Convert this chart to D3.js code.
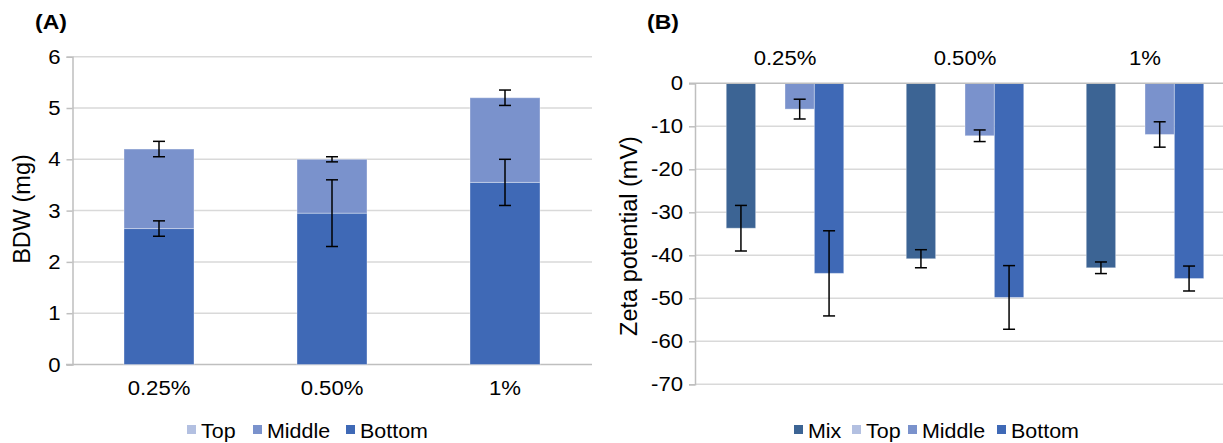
<!DOCTYPE html>
<html><head><meta charset="utf-8">
<script src="https://cdn.jsdelivr.net/npm/d3@7"></script>
<style>body{margin:0;background:#fff;} svg{display:block;font-family:"Liberation Sans",Arial,sans-serif;}</style>
</head><body><svg id="c" width="1223" height="443"></svg>
<script>
// ---- Data ----
const categories = ["0.25%", "0.50%", "1%"];
// Panel A (BDW, mg) stacked
const bdwBottom = [2.65, 2.95, 3.55];
const bdwBottomErr = [0.15, 0.65, 0.45];
const bdwMiddle = [1.55, 1.05, 1.65];
const bdwTotalErr = [0.15, 0.05, 0.15];
const bdwTop = [0, 0, 0];
const bdwTicks = [0, 1, 2, 3, 4, 5, 6];
const legendA = ["Top", "Middle", "Bottom"];
// Panel B (Zeta potential, mV)
const seriesB = ["Mix", "Top", "Middle", "Bottom"];
const zetaMix = [-33.7, -40.8, -42.9];
const zetaMixErr = [5.3, 2.1, 1.35];
const zetaTop = [null, null, null];
const zetaTopErr = [null, null, null];
const zetaMiddle = [-6.0, -12.2, -11.9];
const zetaMiddleErr = [2.3, 1.35, 2.95];
const zetaBottom = [-44.2, -49.8, -45.4];
const zetaBottomErr = [9.9, 7.4, 2.9];
const zetaTicks = [0, -10, -20, -30, -40, -50, -60, -70];

const colors = {Mix: "#3C6494", Top: "#B3C0E1", Middle: "#7A92CC", Bottom: "#3F69B6"};

// layout
const legendAX = [187, 253, 346];
const legendBX = [794, 852, 908, 997];
const SX = 1.08; // horizontal stretch of text in the reference

const svg = d3.select("#c");
const gridColor = "#D9D9D9", axisColor = "#BFBFBF";

function stext(g, x, y, str, size, anchor, sx, bold) {
  const t = g.append("text").attr("transform", `translate(${x},${y}) scale(${sx},1)`)
    .attr("text-anchor", anchor || "start").attr("font-size", size).text(str);
  if (bold) t.attr("font-weight", "bold");
  return t;
}
function styleAxis(ax) {
  ax.select(".domain").attr("stroke", axisColor).attr("stroke-width", 1.5);
  ax.selectAll(".tick line").attr("stroke", axisColor).attr("stroke-width", 1.5);
  ax.selectAll(".tick text").attr("font-size", 20.5).attr("fill", "#000")
    .attr("font-family", "Liberation Sans, Arial, sans-serif")
    .attr("transform", `scale(${SX},1)`).attr("x", -12 / SX);
}
function errBar(g, x, yv, e, yS, cap) {
  g.append("line").attr("x1", x).attr("x2", x).attr("y1", yS(yv - e)).attr("y2", yS(yv + e)).attr("stroke", "#000").attr("stroke-width", 1.5);
  [yv - e, yv + e].forEach(v => g.append("line").attr("x1", x - cap / 2).attr("x2", x + cap / 2).attr("y1", yS(v)).attr("y2", yS(v)).attr("stroke", "#000").attr("stroke-width", 1.5));
}
function legend(g, items, xs, y) {
  items.forEach((name, i) => {
    g.append("rect").attr("x", xs[i]).attr("y", y - 13).attr("width", 9).attr("height", 9).attr("fill", colors[name]);
    stext(g, xs[i] + 14, y, name, 19.5, "start", 1.1);
  });
}

// ---------- Panel A ----------
const xA = d3.scaleBand().domain(categories).range([72.5, 591.5]);
const yA = d3.scaleLinear().domain([0, 6]).range([364.5, 56.7]);
const gA = svg.append("g");
gA.selectAll("line.grid").data(bdwTicks.filter(d => d !== 0)).join("line")
  .attr("x1", 72.5).attr("x2", 592).attr("y1", d => yA(d)).attr("y2", d => yA(d))
  .attr("stroke", gridColor).attr("stroke-width", 1.5);
const axA = gA.append("g").attr("transform", "translate(72.5,0)")
  .call(d3.axisLeft(yA).tickValues(bdwTicks).tickSize(6).tickPadding(6).tickFormat(d3.format("d")));
styleAxis(axA);
gA.append("line").attr("x1", 66).attr("x2", 592).attr("y1", yA(0)).attr("y2", yA(0)).attr("stroke", axisColor).attr("stroke-width", 1.5);
const bwA = 70;
const stackA = categories.map((c, i) => ({c, b: bdwBottom[i], m: bdwMiddle[i], t: bdwTop[i]}));
gA.selectAll("rect.bot").data(stackA).join("rect")
  .attr("x", d => xA(d.c) + xA.bandwidth() / 2 - bwA / 2).attr("width", bwA)
  .attr("y", d => yA(d.b)).attr("height", d => yA(0) - yA(d.b))
  .attr("fill", colors.Bottom).attr("stroke", "#fff").attr("stroke-opacity", 0.35).attr("stroke-width", 1);
gA.selectAll("rect.mid").data(stackA).join("rect")
  .attr("x", d => xA(d.c) + xA.bandwidth() / 2 - bwA / 2).attr("width", bwA)
  .attr("y", d => yA(d.b + d.m)).attr("height", d => yA(d.b) - yA(d.b + d.m))
  .attr("fill", colors.Middle).attr("stroke", "#fff").attr("stroke-opacity", 0.35).attr("stroke-width", 1);
stackA.forEach((d, i) => {
  const cx = xA(d.c) + xA.bandwidth() / 2;
  errBar(gA, cx, d.b, bdwBottomErr[i], yA, 12);
  errBar(gA, cx, d.b + d.m, bdwTotalErr[i], yA, 12);
});
categories.forEach(c => stext(gA, xA(c) + xA.bandwidth() / 2, 395, c, 20.5, "middle", SX));
gA.append("text").attr("transform", "translate(30,209) rotate(-90)").attr("text-anchor", "middle")
  .attr("font-size", 23.5).text("BDW (mg)");
stext(gA, 35, 29, "(A)", 20, "start", 1.15, true);
legend(gA, legendA, legendAX, 438);

// ---------- Panel B ----------
const xB = d3.scaleBand().domain(categories).range([695, 1235]);
const yB = d3.scaleLinear().domain([-70, 0]).range([384.3, 83.3]);
const gB = svg.append("g");
gB.selectAll("line.grid").data(zetaTicks.filter(d => d !== 0)).join("line")
  .attr("x1", 695).attr("x2", 1235).attr("y1", d => yB(d)).attr("y2", d => yB(d))
  .attr("stroke", gridColor).attr("stroke-width", 1.5);
const axB = gB.append("g").attr("transform", "translate(695,0)")
  .call(d3.axisLeft(yB).tickValues(zetaTicks).tickSize(6).tickPadding(6).tickFormat(d => d < 0 ? "-" + Math.abs(d) : String(d)));
styleAxis(axB);
const groupW = 117.5;
const xInner = d3.scaleBand().domain(seriesB).range([0, groupW]);
const dataB = {Mix: [zetaMix, zetaMixErr], Top: [zetaTop, zetaTopErr], Middle: [zetaMiddle, zetaMiddleErr], Bottom: [zetaBottom, zetaBottomErr]};
seriesB.forEach(s => {
  const [vals] = dataB[s];
  categories.forEach((c, i) => {
    if (vals[i] == null) return;
    const x = xB(c) + xB.bandwidth() / 2 - groupW / 2 + xInner(s);
    gB.append("rect").attr("x", x).attr("width", xInner.bandwidth())
      .attr("y", yB(0)).attr("height", yB(vals[i]) - yB(0))
      .attr("fill", colors[s]).attr("stroke", "#fff").attr("stroke-opacity", 0.35).attr("stroke-width", 1);
  });
});
seriesB.forEach(s => {
  const [vals, errs] = dataB[s];
  categories.forEach((c, i) => {
    if (vals[i] == null) return;
    const x = xB(c) + xB.bandwidth() / 2 - groupW / 2 + xInner(s) + xInner.bandwidth() / 2;
    errBar(gB, x, vals[i], errs[i], yB, 12);
  });
});
gB.append("line").attr("x1", 689).attr("x2", 1235).attr("y1", yB(0)).attr("y2", yB(0)).attr("stroke", axisColor).attr("stroke-width", 1.5);
categories.forEach(c => stext(gB, xB(c) + xB.bandwidth() / 2, 65, c, 20.5, "middle", SX));
gB.append("text").attr("transform", "translate(637,236) rotate(-90)").attr("text-anchor", "middle")
  .attr("font-size", 23.5).text("Zeta potential (mV)");
stext(gB, 647, 29, "(B)", 20, "start", 1.15, true);
legend(gB, seriesB, legendBX, 438);
</script></body></html>
